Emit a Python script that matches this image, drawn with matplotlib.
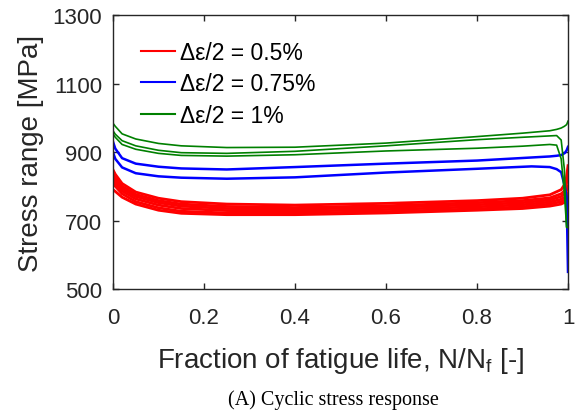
import matplotlib
matplotlib.use("Agg")
import matplotlib.pyplot as plt

plt.rcParams["font.family"] = ["Liberation Sans", "DejaVu Sans"]

# fraction of fatigue life sample points
red_frac = [0, 0.005, 0.02, 0.05, 0.1, 0.15, 0.25, 0.4, 0.6, 0.8, 0.9, 0.96, 0.985, 0.995, 1.0]
red_curves = [
    [848, 835, 808, 783, 765, 755, 748, 745, 750, 758, 765, 775, 790, 810, 860],
    [840, 825, 800, 776, 758, 748, 741, 738, 743, 752, 758, 766, 778, 790, 840],
    [832, 818, 793, 770, 752, 742, 735, 733, 738, 746, 752, 760, 770, 780, 800],
    [825, 810, 786, 763, 745, 735, 729, 727, 732, 740, 746, 754, 762, 770, 780],
    [815, 800, 778, 755, 737, 727, 722, 721, 726, 734, 740, 748, 755, 762, 770],
    [790, 785, 768, 748, 730, 721, 717, 717, 722, 730, 735, 742, 748, 755, 760],
]

blue_frac = [0, 0.005, 0.02, 0.05, 0.1, 0.15, 0.25, 0.4, 0.6, 0.8, 0.92, 0.96, 0.975, 0.985, 0.993, 0.997, 1.0]
blue_curves = [
    [930, 910, 882, 866, 857, 852, 849, 856, 866, 875, 884, 887, 889, 891, 897, 905, 915],
    [899, 880, 855, 838, 829, 825, 822, 826, 840, 851, 858, 856, 850, 841, 800, 769, 550],
]

green_frac = [0, 0.005, 0.02, 0.05, 0.1, 0.15, 0.25, 0.4, 0.6, 0.8, 0.9, 0.96, 0.975, 0.985, 0.992, 0.997, 1.0]
green_curves = [
    [984, 975, 953, 938, 925, 918, 913, 914, 926, 945, 955, 962, 966, 970, 975, 980, 990],
    [962, 952, 933, 918, 905, 898, 896, 902, 918, 936, 943, 947, 948, 935, 850, 680, 680],
    [953, 943, 922, 908, 896, 890, 888, 892, 903, 911, 917, 922, 920, 880, 780, 680, 680],
]

labels = [r"Δε/2 = 0.5%", r"Δε/2 = 0.75%", r"Δε/2 = 1%"]
x_ticks = [0, 0.2, 0.4, 0.6, 0.8, 1.0]
x_ticklabels = ["0", "0.2", "0.4", "0.6", "0.8", "1"]
y_ticks = [500, 700, 900, 1100, 1300]

fig = plt.figure(figsize=(5.78, 4.14), dpi=100)
ax = fig.add_axes([113 / 578, 1 - 290 / 414, 455 / 578, 274 / 414])

groups = [
    (red_frac, red_curves, "#ff0000", 2.0),
    (blue_frac, blue_curves, "#0000ff", 1.8),
    (green_frac, green_curves, "#008000", 1.2),
]
for (frac, curves, color, lw), lab in zip(groups, labels):
    for i, c in enumerate(curves):
        ax.plot(frac, c, color=color, lw=lw, label=lab if i == 0 else None)

ax.set_xlim(0, 1.0)
ax.set_ylim(500, 1300)
ax.set_xticks(x_ticks)
ax.set_xticklabels(x_ticklabels)
ax.set_yticks(y_ticks)

ink = "#262626"
for s in ax.spines.values():
    s.set_color(ink)
    s.set_linewidth(1.0)
ax.tick_params(direction="in", top=True, right=True, length=4, width=1.0,
               colors=ink, labelsize=16, labelcolor=ink)
ax.tick_params(axis="x", pad=13)
ax.tick_params(axis="y", pad=8)

ax.set_xlabel(r"Fraction of fatigue life, N/N$_\mathregular{f}$ [-]", fontsize=20, color=ink, labelpad=12)
ax.set_ylabel("Stress range [MPa]", fontsize=20, color=ink, labelpad=6)

leg = ax.legend(loc="upper left", frameon=False, fontsize=16.5, handlelength=1.5,
                handletextpad=0.22, labelspacing=0.36, borderaxespad=0.3,
                bbox_to_anchor=(0.026, 0.963))
for line in leg.get_lines():
    line.set_linewidth(1.5)

fig.text(333 / 578, 1 - 405 / 414, "(A) Cyclic stress response", ha="center", va="baseline",
         fontsize=14.5, family="Liberation Serif", color="black")

fig.savefig("out.png", dpi=100)
